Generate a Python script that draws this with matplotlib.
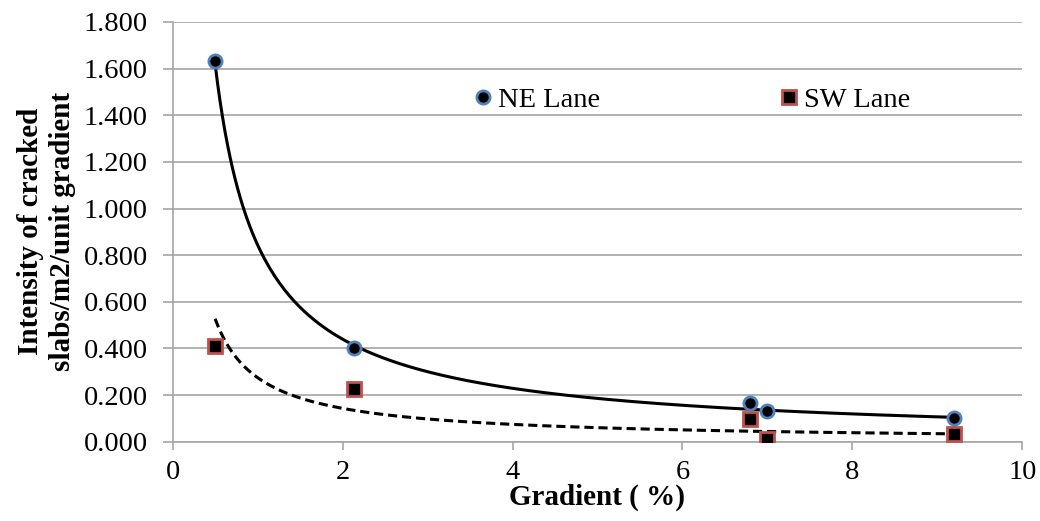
#!/usr/bin/env python3
'''Intensity of cracked slabs per unit gradient, NE vs SW lane.'''

import numpy as np
import matplotlib
matplotlib.use('Agg')
import matplotlib.pyplot as plt

# Values
gradient_ne = [0.5, 2.13, 6.8, 7.0, 9.2]
intensity_ne = [1.632, 0.400, 0.167, 0.134, 0.100]
gradient_sw = [0.5, 2.13, 6.8, 7.0, 9.2]
intensity_sw = [0.409, 0.227, 0.097, 0.013, 0.034]

# Power trendlines y = a * x^b, coefficients
trend_ne = (0.844, -0.94)
trend_sw = (0.275, -0.94)

x_ticks = [0, 2, 4, 6, 8, 10]
y_ticks = [0.0, 0.2, 0.4, 0.6, 0.8, 1.0, 1.2, 1.4, 1.6, 1.8]

plt.rcParams['font.family'] = ['Liberation Serif', 'DejaVu Serif']

fig = plt.figure(figsize=(10.4, 5.21), dpi=100)
ax = fig.add_axes([0.166, 0.152, 0.817, 0.806])

# Trendlines over the data range
xs = np.linspace(min(gradient_ne), max(gradient_ne), 300)
ax.plot(xs, trend_ne[0] * xs ** trend_ne[1], color='black', lw=2.2,
        solid_capstyle='butt', zorder=3)
xs = np.linspace(min(gradient_sw), max(gradient_sw), 300)
ax.plot(xs, trend_sw[0] * xs ** trend_sw[1], color='black', lw=2.2,
        linestyle=(0, (3, 1.6)), zorder=3)

# Data points
ax.plot(gradient_ne, intensity_ne, linestyle='none', marker='o', markersize=9.5,
        markerfacecolor='black', markeredgecolor='#4f81bd', markeredgewidth=2,
        label='NE Lane', zorder=4)
ax.plot(gradient_sw, intensity_sw, linestyle='none', marker='s', markersize=9.5,
        markerfacecolor='black', markeredgecolor='#c0504d', markeredgewidth=2,
        label='SW Lane', zorder=4)

# Axes
ax.set_xlim(0, 10)
ax.set_ylim(0, 1.8)
ax.set_xticks(x_ticks)
ax.set_yticks(y_ticks)
ax.set_yticklabels(['%.3f' % v for v in y_ticks])
ax.tick_params(axis='both', direction='out', color='#a6a6a6', labelsize=20.5,
               width=1.2)
ax.tick_params(axis='y', length=7, pad=11)
ax.tick_params(axis='x', length=6, pad=7)

for side in ['top', 'right']:
    ax.spines[side].set_visible(False)
for side in ['left', 'bottom']:
    ax.spines[side].set_color('#a6a6a6')
    ax.spines[side].set_linewidth(1.2)

# Grid
ax.yaxis.grid(True, color='#a6a6a6', linewidth=1.2)
ax.set_axisbelow(True)

# Labels
ax.set_xlabel('Gradient ( %)', fontsize=21, fontweight='bold')
ax.xaxis.set_label_coords(0.5, -0.1)
ax.set_ylabel('Intensity of cracked\nslabs/m2/unit gradient', fontsize=21,
              fontweight='bold', linespacing=1.25)
ax.yaxis.set_label_coords(-0.114, 0.5)

# Legend
ax.legend(ncol=2, loc='center left', bbox_to_anchor=(0.355, 0.814),
          frameon=False, fontsize=20.5, handlelength=0.6, handletextpad=0.25,
          columnspacing=6.3, borderpad=0, borderaxespad=0)

fig.savefig('out.png', dpi=100)
